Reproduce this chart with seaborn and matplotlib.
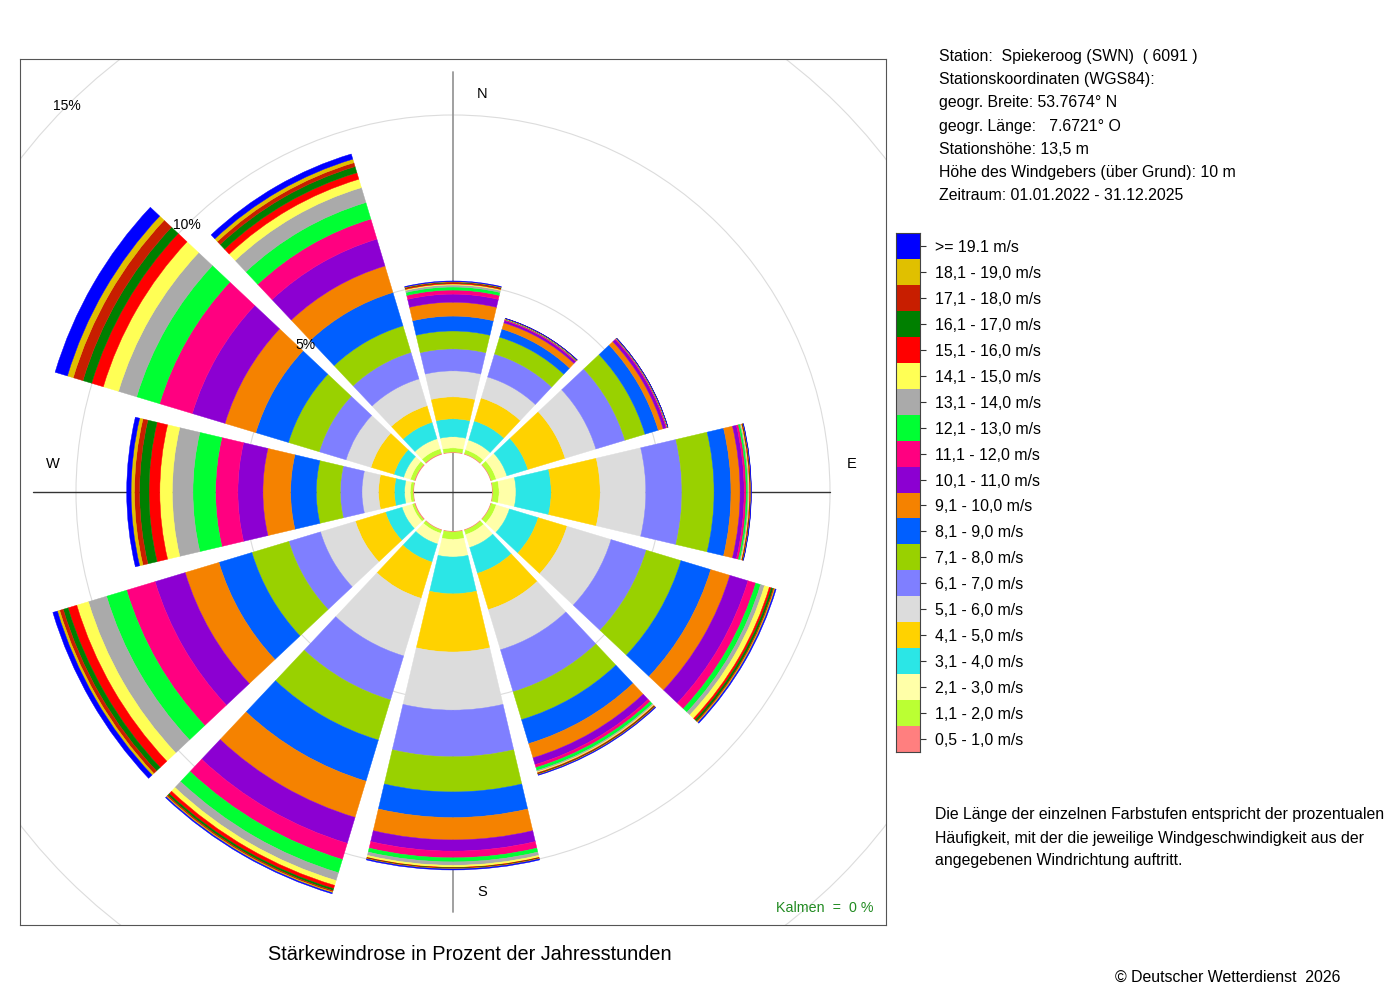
import numpy as np
import pandas as pd
import matplotlib
matplotlib.use('Agg')
import matplotlib.pyplot as plt
import seaborn as sns
from matplotlib.colors import ListedColormap
from matplotlib.patches import Circle

# speed classes, from calm to strong
speed_classes = ['0,5 - 1,0 m/s', '1,1 - 2,0 m/s', '2,1 - 3,0 m/s', '3,1 - 4,0 m/s',
                 '4,1 - 5,0 m/s', '5,1 - 6,0 m/s', '6,1 - 7,0 m/s', '7,1 - 8,0 m/s',
                 '8,1 - 9,0 m/s', '9,1 - 10,0 m/s', '10,1 - 11,0 m/s', '11,1 - 12,0 m/s',
                 '12,1 - 13,0 m/s', '13,1 - 14,0 m/s', '14,1 - 15,0 m/s', '15,1 - 16,0 m/s',
                 '16,1 - 17,0 m/s', '17,1 - 18,0 m/s', '18,1 - 19,0 m/s', '>= 19.1 m/s']
class_colors = ['#FF7F7F', '#BBFF33', '#FFFFA8', '#2BE6E6', '#FFD200', '#DCDCDC',
                '#7F7FFF', '#99D100', '#005FFF', '#F58200', '#8C00D2', '#FF0080',
                '#00FF33', '#AAAAAA', '#FFFF55', '#FF0000', '#007F00', '#C81E00',
                '#E0C000', '#0000FF']

directions = [0, 30, 60, 90, 120, 150, 180, 210, 240, 270, 300, 330]

# percent of year hours per speed class, one list per direction sector
pct_000 = [0.03, 0.12, 0.33, 0.53, 0.65, 0.77, 0.65, 0.53, 0.44, 0.41, 0.24, 0.12, 0.09, 0.06, 0.03, 0.03, 0.015, 0.015, 0.01, 0.02]
pct_030 = [0.03, 0.12, 0.30, 0.59, 0.71, 0.65, 0.71, 0.52, 0.25, 0.19, 0.07, 0.03, 0.015, 0.005, 0.005, 0.005, 0.003, 0.003, 0.002, 0.004]
pct_060 = [0.03, 0.15, 0.33, 0.65, 1.15, 0.95, 0.90, 0.62, 0.41, 0.15, 0.09, 0.03, 0.01, 0.005, 0.005, 0.003, 0.002, 0.002, 0.001, 0.003]
pct_090 = [0.03, 0.18, 0.50, 1.04, 1.45, 1.35, 1.07, 0.95, 0.50, 0.27, 0.12, 0.06, 0.05, 0.03, 0.02, 0.02, 0.01, 0.01, 0.005, 0.01]
pct_120 = [0.03, 0.15, 0.41, 0.89, 0.89, 1.36, 1.09, 1.07, 0.92, 0.59, 0.56, 0.24, 0.15, 0.12, 0.15, 0.06, 0.06, 0.03, 0.03, 0.03]
pct_150 = [0.03, 0.13, 0.40, 0.80, 1.12, 1.24, 1.30, 0.86, 0.74, 0.44, 0.21, 0.09, 0.09, 0.04, 0.03, 0.02, 0.015, 0.015, 0.01, 0.02]
pct_180 = [0.03, 0.22, 0.52, 1.09, 1.72, 1.72, 1.38, 1.04, 0.76, 0.66, 0.33, 0.20, 0.12, 0.10, 0.06, 0.015, 0.012, 0.012, 0.01, 0.03]
pct_210 = [0.03, 0.09, 0.33, 0.56, 1.12, 1.78, 1.36, 1.24, 1.27, 1.12, 0.80, 0.50, 0.41, 0.24, 0.15, 0.10, 0.06, 0.04, 0.03, 0.03]
pct_240 = [0.04, 0.07, 0.31, 0.51, 0.93, 1.08, 0.98, 1.14, 1.02, 1.04, 0.93, 0.88, 0.62, 0.56, 0.36, 0.27, 0.15, 0.11, 0.07, 0.14]
pct_270 = [0.03, 0.08, 0.17, 0.30, 0.47, 0.49, 0.64, 0.71, 0.76, 0.82, 0.74, 0.66, 0.67, 0.61, 0.37, 0.32, 0.28, 0.15, 0.10, 0.13]
pct_300 = [0.04, 0.12, 0.21, 0.30, 0.71, 0.77, 0.83, 0.95, 1.01, 0.95, 1.01, 1.01, 0.71, 0.56, 0.47, 0.36, 0.27, 0.30, 0.18, 0.38]
pct_330 = [0.04, 0.14, 0.31, 0.51, 0.51, 0.83, 0.82, 0.82, 1.03, 0.82, 0.83, 0.62, 0.51, 0.46, 0.26, 0.20, 0.19, 0.12, 0.11, 0.16]

station_lines = ['Station:  Spiekeroog (SWN)  ( 6091 )',
                 'Stationskoordinaten (WGS84):',
                 'geogr. Breite: 53.7674° N',
                 'geogr. Länge:   7.6721° O',
                 'Stationshöhe: 13,5 m',
                 'Höhe des Windgebers (über Grund): 10 m',
                 'Zeitraum: 01.01.2022 - 31.12.2025']
note_lines = ['Die Länge der einzelnen Farbstufen entspricht der prozentualen',
              'Häufigkeit, mit der die jeweilige Windgeschwindigkeit aus der',
              'angegebenen Windrichtung auftritt.']
ring_pcts = [5, 10, 15]

freq = pd.DataFrame([pct_000, pct_030, pct_060, pct_090, pct_120, pct_150,
                     pct_180, pct_210, pct_240, pct_270, pct_300, pct_330],
                    index=directions, columns=speed_classes)

sns.set_theme(style='white')
plt.rcParams['font.family'] = ['Liberation Sans', 'DejaVu Sans']
plt.rcParams['text.color'] = 'black'
plt.rcParams['ytick.color'] = 'black'
plt.rcParams['ytick.labelcolor'] = 'black'

W, H = 1400, 1000
fig = plt.figure(figsize=(14, 10), dpi=100)
fig.patch.set_facecolor('white')

# plot box in pixels
box_l, box_t, box = 20, 59, 866
half = box / 2
px_per_pct = 33.8
hole = 39 / px_per_pct
rect = [box_l / W, 1 - (box_t + box) / H, box / W, box / H]

# background: frame, rings, cross
ax_bg = fig.add_axes(rect)
ax_bg.set_xlim(-half, half)
ax_bg.set_ylim(-half, half)
ax_bg.set_xticks([])
ax_bg.set_yticks([])
for s in ax_bg.spines.values():
    s.set_visible(True)
    s.set_color('#555555')
    s.set_linewidth(0.8)
for p in ring_pcts:
    ax_bg.add_patch(Circle((0, 0), (hole + p) * px_per_pct, fill=False,
                           ec='#dcdcdc', lw=0.8))
ax_bg.plot([0, 0], [-420, 420], color='#999999', lw=1.3, zorder=1)
ax_bg.plot([-420, 377], [0, 0], color='#333333', lw=1.0, zorder=1)
ax_bg.text(29, 398, 'N', ha='center', va='center', fontsize=10.5)
ax_bg.text(399, 28, 'E', ha='center', va='center', fontsize=10.5)
ax_bg.text(29, -400, 'S', ha='center', va='center', fontsize=10.5)
ax_bg.text(-400, 28, 'W', ha='center', va='center', fontsize=10.5)
ax_bg.text(421, -416, 'Kalmen  =  0 %', ha='right', va='center',
           fontsize=10.3, color='#228B22')

# wind rose bars
ax_p = fig.add_axes(rect, projection='polar')
ax_p.set_theta_zero_location('N')
ax_p.set_theta_direction(-1)
ax_p.set_ylim(0, half / px_per_pct - hole)
ax_p.set_rorigin(-hole)
ax_p.axis('off')
theta = np.deg2rad(freq.index.values)
bottom = np.zeros(len(freq))
for cls, col in zip(speed_classes, class_colors):
    vals = freq[cls].values
    ax_p.bar(theta, vals, width=np.deg2rad(26.5), bottom=bottom, color=col,
             edgecolor=col, linewidth=0.3, align='center')
    bottom += vals

# ring labels along the NW diagonal, on top of the bars
for p in ring_pcts:
    r = (hole + p) * px_per_pct
    x = (box_l + half - r * np.sin(np.pi / 4)) / W
    y = 1 - (box_t + half - r * np.cos(np.pi / 4)) / H
    fig.text(x, y, f'{p}%', ha='center', va='center', fontsize=10)

# legend key
ax_leg = fig.add_axes([896 / W, 1 - 752 / H, 24 / W, 519 / H])
sns.heatmap(np.arange(len(speed_classes))[::-1].reshape(-1, 1),
            cmap=ListedColormap(class_colors), vmin=-0.5, vmax=len(speed_classes) - 0.5,
            cbar=False, ax=ax_leg, xticklabels=False,
            yticklabels=speed_classes[::-1])
ax_leg.yaxis.tick_right()
ax_leg.tick_params(axis='y', right=True, left=False, labelright=True, labelleft=False,
                   length=4, width=0.8, color='#333333', pad=7, labelsize=11.4,
                   labelrotation=0, labelcolor='black')
ax_leg.tick_params(axis='x', bottom=False)
for s in ax_leg.spines.values():
    s.set_visible(True)
    s.set_color('#444444')
    s.set_linewidth(0.8)

# texts
for i, line in enumerate(station_lines):
    fig.text(939 / W, 1 - (56.5 + i * 23.2) / H, line, ha='left', va='center', fontsize=11.4)
for i, line in enumerate(note_lines):
    fig.text(935 / W, 1 - (815 + i * 23) / H, line, ha='left', va='center', fontsize=11.4)
fig.text(470 / W, 1 - 955 / H, 'Stärkewindrose in Prozent der Jahresstunden',
         ha='center', va='center', fontsize=14.3)
fig.text(1228 / W, 1 - 977 / H, '© Deutscher Wetterdienst  2026',
         ha='center', va='center', fontsize=11.4)

fig.savefig('out.png', dpi=100)
